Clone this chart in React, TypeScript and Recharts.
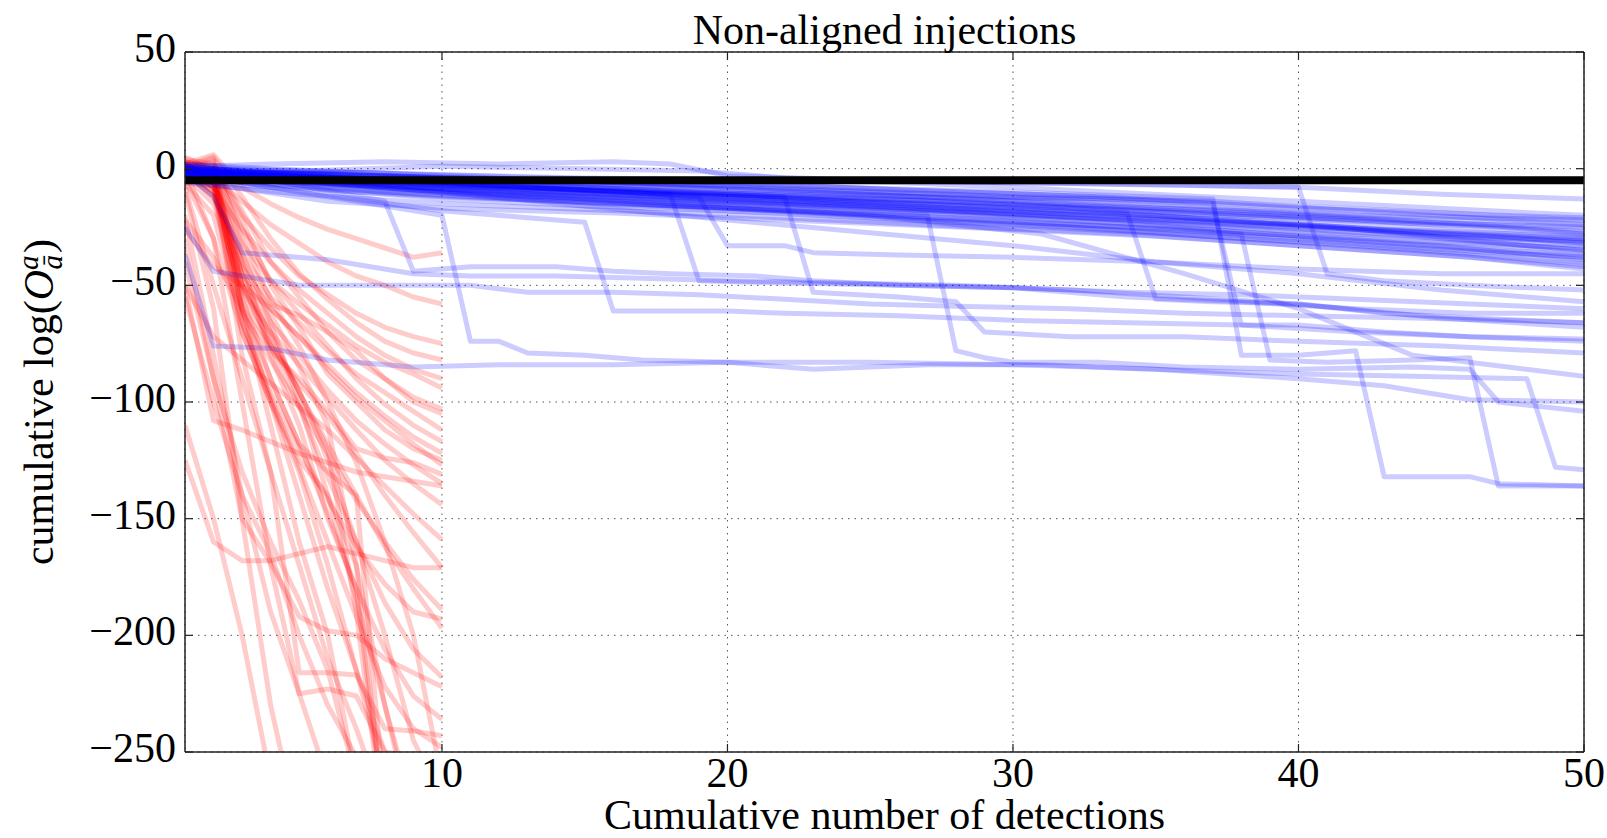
import React from 'react';
import { LineChart, Line, XAxis, YAxis, CartesianGrid } from 'recharts';

const CHART_W = 1607;
const CHART_H = 838;

const TITLE = 'Non-aligned injections';
const X_LABEL = 'Cumulative number of detections';
const X_TICKS = [10, 20, 30, 40, 50];
const Y_TICKS = [-250, -200, -150, -100, -50, 0, 50];
const X_DOMAIN: [number, number] = [1, 50];
const Y_DOMAIN: [number, number] = [-250, 50];
const THRESHOLD_LEVEL = -5;

// Red runs: cumulative value after detection 1, 2, 3, ... (stop once they leave the axes)
const redRuns: number[][] = [
  [2, 6, -8, -15, -21, -26, -30, -34, -38, -36],
  [0, -4, -14, -24, -32, -40, -46, -50, -55, -58],
  [3, 1, -20, -34, -46, -54, -62, -68, -72, -75],
  [1, 5, -12, -30, -45, -56, -66, -74, -79, -82],
  [-2, -8, -26, -40, -52, -62, -72, -80, -86, -90],
  [0, -3, -32, -48, -58, -67, -76, -83, -88, -94],
  [4, 2, -18, -40, -55, -70, -82, -90, -98, -103],
  [-1, -12, -36, -55, -66, -78, -88, -96, -104, -112],
  [2, 0, -26, -48, -62, -76, -90, -101, -110, -117],
  [-26, -42, -50, -60, -72, -84, -96, -106, -115, -122],
  [0, -6, -42, -60, -72, -86, -98, -108, -118, -127],
  [1, -2, -46, -66, -80, -95, -108, -118, -127, -135],
  [-3, -15, -52, -70, -84, -98, -112, -125, -135, -144],
  [-50, -72, -82, -92, -102, -112, -124, -136, -148, -159],
  [0, -8, -56, -76, -92, -106, -122, -140, -156, -171],
  [2, -4, -62, -82, -102, -122, -142, -160, -176, -189],
  [-1, -10, -46, -72, -96, -118, -140, -162, -180, -197],
  [-125, -160, -168, -168, -165, -162, -165, -168, -171, -171],
  [0, -5, -60, -90, -118, -148, -180, -206, -226, -236],
  [3, -8, -66, -98, -128, -160, -192, -222, -240, -248],
  [-6, -20, -66, -96, -120, -142, -162, -178, -190, -193],
  [1, -3, -50, -76, -102, -132, -160, -186, -206, -218],
  [-2, -12, -40, -58, -63, -70, -78, -90, -100, -105],
  [5, -1, -22, -50, -68, -88, -100, -112, -120, -125],
  [-50, -108, -112, -117, -122, -126, -130, -132, -134, -136],
  [-30, -90, -150, -169, -192, -198, -200, -210, -216, -222],
  [-22, -38, -60, -78, -90, -104, -120, -124, -126, -131],
  [-8, -50, -90, -130, -216, -216, -217, -240, -241, -243],
  [0, -30, -100, -170, -225, -223, -226, -250, -252, -256],
  [0, 3, -60, -110, -160, -200, -262],
  [-10, -60, -150, -230, -285],
  [2, -5, -80, -130, -170, -210, -240, -275],
  [-40, -90, -130, -160, -185, -215, -262],
  [-55, -100, -140, -165, -200, -230, -252, -270],
  [1, -2, -40, -80, -110, -150, -180, -280],
  [3, 0, -50, -70, -96, -120, -190, -285],
  [-2, -10, -70, -100, -125, -140, -170, -280],
  [0, 4, -30, -56, -76, -100, -126, -160, -200, -262],
  [-5, -30, -70, -100, -130, -170, -215, -262],
  [1, -3, -55, -90, -118, -130, -140, -272],
  [-1, -6, -45, -62, -85, -110, -170, -230, -282],
  [0, -2, -36, -66, -100, -140, -185, -230, -275],
  [-110, -150, -200, -262],
  [2, -4, -60, -100, -140, -180, -215, -250, -272],
  [0, -8, -50, -75, -95, -125, -160, -200, -245, -270],
  [-20, -80, -140, -190, -225, -262],
];

// Blue runs: [detection, cumulative value] at each change of slope
const blueRuns: number[][][] = [
  [[1, 1], [4, 2], [8, 3], [12, 2], [16, 3], [18, 2], [20, -3], [25, -5], [30, -6], [35, -7], [40, -8], [45, -11], [50, -13]],
  [[1, 0], [5, -1], [10, 1], [15, 0], [19, -1], [22, -4], [30, -8], [40, -14], [50, -20]],
  [[1, -1], [6, -2], [10, -4], [15, -5], [20, -6], [26, -9], [33, -12], [40, -17], [45, -19], [50, -22]],
  [[1, -2], [4, -3], [10, -5], [17, -7], [22, -9], [30, -12], [37, -14], [42, -18], [50, -24]],
  [[1, 1], [5, -3], [10, -6], [15, -9], [22, -12], [30, -15], [38, -18], [45, -23], [50, -26]],
  [[1, -3], [7, -5], [12, -8], [20, -11], [27, -14], [34, -18], [41, -22], [47, -25], [50, -28]],
  [[1, -4], [5, -6], [11, -9], [18, -12], [25, -15], [31, -19], [38, -24], [44, -27], [50, -30]],
  [[1, 0], [3, -2], [9, -7], [14, -10], [21, -13], [28, -17], [35, -20], [41, -25], [46, -30], [50, -33]],
  [[1, -2], [6, -6], [12, -10], [19, -14], [24, -16], [30, -20], [36, -23], [43, -28], [50, -35]],
  [[1, -5], [4, -8], [10, -12], [16, -15], [23, -18], [29, -22], [35, -26], [42, -31], [50, -37]],
  [[1, -1], [5, -4], [9, -8], [15, -12], [20, -15], [27, -19], [33, -23], [39, -28], [45, -33], [50, -39]],
  [[1, -3], [8, -10], [13, -13], [20, -17], [26, -21], [32, -25], [38, -30], [44, -35], [50, -41]],
  [[1, -6], [5, -11], [10, -15], [14, -17], [20, -20], [27, -24], [34, -28], [40, -33], [46, -38], [50, -43]],
  [[1, 2], [4, 0], [10, -3], [16, -6], [24, -10], [32, -14], [40, -19], [50, -24]],
  [[1, -2], [7, -4], [13, -7], [19, -10], [26, -13], [33, -17], [39, -21], [46, -27], [50, -30]],
  [[1, -1], [5, -5], [11, -8], [18, -11], [25, -14], [32, -17], [37, -22], [43, -26], [50, -29]],
  [[1, 0], [6, -3], [12, -6], [17, -9], [23, -13], [30, -17], [36, -21], [42, -26], [48, -33], [50, -35]],
  [[1, -4], [4, -7], [9, -11], [14, -14], [20, -18], [26, -22], [32, -25], [38, -29], [44, -34], [50, -38]],
  [[1, -3], [6, -7], [12, -12], [18, -16], [24, -19], [30, -22], [37, -27], [44, -31], [50, -34]],
  [[1, 1], [3, -1], [8, -3], [14, -5], [21, -8], [28, -11], [35, -15], [42, -20], [50, -22]],
  [[1, -2], [5, -8], [10, -13], [15, -16], [22, -19], [28, -23], [34, -27], [41, -32], [47, -37], [50, -40]],
  [[1, -5], [6, -14], [10, -17], [16, -19], [22, -22], [28, -25], [35, -29], [40, -33], [46, -38], [50, -42]],
  [[1, 0], [4, -4], [9, -9], [16, -13], [23, -16], [29, -19], [36, -24], [42, -28], [50, -31]],
  [[1, -1], [7, -6], [13, -9], [19, -13], [26, -17], [33, -21], [40, -24], [47, -29], [50, -32]],
  [[1, 0], [3, -1], [7, -3], [12, -5], [18, -8], [25, -11], [32, -15], [40, -20], [46, -24], [50, -27]],
  [[1, -1], [5, -2], [10, -4], [16, -7], [23, -10], [30, -14], [37, -19], [44, -23], [50, -25]],
  [[1, 1], [4, -2], [9, -5], [15, -8], [21, -11], [28, -14], [35, -18], [42, -22], [50, -28]],
  [[1, -2], [6, -4], [11, -7], [17, -10], [24, -14], [31, -18], [38, -22], [45, -28], [50, -31]],
  [[1, 0], [5, -3], [10, -6], [16, -10], [22, -14], [28, -18], [34, -22], [40, -27], [47, -33], [50, -36]],
  [[1, -3], [7, -7], [13, -11], [20, -14], [27, -17], [35, -21], [42, -26], [50, -32]],
  [[1, 2], [3, 0], [8, -2], [14, -4], [20, -6], [26, -9], [33, -12], [40, -16], [47, -20], [50, -21]],
  [[1, -1], [6, -4], [11, -8], [17, -12], [23, -16], [29, -20], [35, -24], [41, -30], [50, -38]],
  [[1, 0], [8, -2], [15, -4], [22, -5], [30, -6], [36, -7], [40, -8], [41, -45], [43, -48], [46, -50], [50, -52]],
  [[1, -2], [10, -10], [20, -22], [30, -33], [35, -40], [40, -45], [45, -52], [50, -57]],
  [[1, -2], [2, -12], [3, -36], [6, -39], [9, -45], [11, -46], [14, -46], [17, -47], [20, -48], [24, -49], [28, -50], [32, -52], [36, -55], [40, -58], [45, -64], [50, -68]],
  [[1, -1], [4, -5], [8, -14], [9, -44], [11, -42], [14, -42], [16, -44], [18, -45], [21, -46], [23, -48], [26, -50], [30, -51], [34, -53], [38, -54], [42, -56], [46, -58], [50, -60]],
  [[1, -25], [2, -44], [5, -50], [8, -50], [11, -50], [13, -53], [16, -53], [19, -54], [22, -56], [25, -58], [28, -59], [32, -60], [36, -62], [40, -63], [44, -64], [50, -66]],
  [[1, -1], [3, -6], [6, -12], [10, -20], [11, -74], [12, -74], [13, -79], [15, -80], [17, -82], [20, -83], [25, -83], [30, -84], [35, -86], [40, -88], [44, -89], [48, -90], [49, -128], [50, -129]],
  [[1, -37], [2, -76], [4, -77], [6, -82], [9, -85], [12, -84], [16, -84], [20, -83], [23, -86], [27, -84], [31, -84], [35, -86], [40, -90], [43, -93], [46, -99], [50, -100]],
  [[1, -2], [5, -10], [10, -18], [13, -21], [15, -23], [16, -61], [20, -61], [22, -62], [26, -63], [30, -65], [34, -66], [38, -67], [42, -70], [46, -72], [50, -74]],
  [[1, 0], [6, -5], [12, -8], [18, -11], [19, -48], [22, -49], [26, -50], [30, -51], [34, -55], [38, -57], [42, -60], [46, -62], [50, -62]],
  [[1, -1], [7, -4], [14, -8], [22, -12], [23, -53], [26, -55], [28, -57], [29, -70], [32, -72], [36, -72], [40, -74], [45, -76], [50, -79]],
  [[1, -2], [8, -6], [15, -9], [19, -12], [20, -33], [22, -33], [23, -36], [26, -37], [30, -38], [35, -40], [40, -43], [45, -45], [50, -45]],
  [[1, -1], [6, -6], [12, -11], [18, -15], [24, -18], [27, -20], [28, -78], [29, -81], [30, -83], [33, -83], [36, -85], [40, -86], [44, -85], [46, -86], [47, -100], [50, -104]],
  [[1, 0], [8, -5], [16, -10], [24, -14], [30, -17], [34, -19], [35, -56], [37, -57], [40, -58], [43, -62], [46, -64], [50, -66]],
  [[1, -1], [8, -3], [16, -6], [24, -8], [30, -10], [37, -13], [38, -80], [40, -80], [42, -78], [43, -132], [46, -132], [47, -135], [50, -136]],
  [[1, -2], [10, -10], [20, -17], [30, -23], [36, -26], [38, -28], [39, -82], [41, -83], [44, -82], [46, -81], [47, -136], [50, -136]],
  [[1, -1], [9, -6], [18, -10], [27, -12], [33, -13], [37, -15], [38, -67], [40, -67], [43, -70], [46, -72], [50, -73]],
  [[1, -3], [9, -9], [17, -14], [25, -20], [31, -28], [36, -45], [40, -60], [44, -80], [50, -89]],
];

const FONT = "'Liberation Serif', 'Times New Roman', Times, serif";
const FONT_SIZE = 42;
const AXIS_STROKE = '#222';
const TICK_LEN = 8;
const LINE_W = 5;

const fmt = (v: number) => (v < 0 ? `\u2212${Math.abs(v)}` : `${v}`);

const redSeries = redRuns.map((run) => run.map((y, i) => ({ x: i + 1, y })));
const blueSeries = blueRuns.map((run) => run.map(([x, y]) => ({ x, y })));
const thresholdSeries = X_DOMAIN.map((x) => ({ x, y: THRESHOLD_LEVEL }));

function BottomTick({ x, y, payload }: any) {
  return (
    <g>
      <line x1={x} y1={y} x2={x} y2={y - TICK_LEN} stroke={AXIS_STROKE} strokeWidth={1.2} />
      <text x={x} y={y + 35} textAnchor="middle" fontFamily={FONT} fontSize={FONT_SIZE} fill="#000">
        {fmt(payload.value)}
      </text>
    </g>
  );
}

function LeftTick({ x, y, payload }: any) {
  return (
    <g>
      <line x1={x} y1={y} x2={x + TICK_LEN} y2={y} stroke={AXIS_STROKE} strokeWidth={1.2} />
      <text x={x - 9} y={y + 10} textAnchor="end" fontFamily={FONT} fontSize={FONT_SIZE} fill="#000">
        {fmt(payload.value)}
      </text>
    </g>
  );
}

function TopTick({ x, y }: any) {
  return <line x1={x} y1={y} x2={x} y2={y + TICK_LEN} stroke={AXIS_STROKE} strokeWidth={1.2} />;
}

function RightTick({ x, y }: any) {
  return <line x1={x} y1={y} x2={x - TICK_LEN} y2={y} stroke={AXIS_STROKE} strokeWidth={1.2} />;
}

const MARGIN = { top: 51, right: 22, bottom: 46, left: 105 };
const PLOT_LEFT = 185;
const PLOT_RIGHT = 1584;
const PLOT_TOP = 52;
const PLOT_BOTTOM = 752;
const PLOT_CX = (PLOT_LEFT + PLOT_RIGHT) / 2;
const PLOT_CY = (PLOT_TOP + PLOT_BOTTOM) / 2;

export default function App() {
  return (
    <div style={{ position: 'absolute', left: 0, top: 0, width: CHART_W, height: CHART_H, background: '#fff' }}>
      <LineChart width={CHART_W} height={CHART_H} margin={MARGIN}>
        <CartesianGrid stroke="#555" strokeWidth={1} strokeDasharray="1.5 5" />
        <XAxis
          type="number"
          dataKey="x"
          domain={X_DOMAIN}
          ticks={X_TICKS}
          interval={0}
          allowDataOverflow
          height={40}
          tickSize={0}
          tickMargin={0}
          tickLine={false}
          axisLine={{ stroke: AXIS_STROKE, strokeWidth: 1.5 }}
          tick={<BottomTick />}
        />
        <XAxis
          xAxisId="top"
          orientation="top"
          type="number"
          dataKey="x"
          domain={X_DOMAIN}
          ticks={X_TICKS}
          interval={0}
          allowDataOverflow
          height={1}
          tickSize={0}
          tickMargin={0}
          tickLine={false}
          axisLine={{ stroke: AXIS_STROKE, strokeWidth: 1.5 }}
          tick={<TopTick />}
        />
        <YAxis
          type="number"
          dataKey="y"
          domain={Y_DOMAIN}
          ticks={Y_TICKS}
          interval={0}
          allowDataOverflow
          width={80}
          tickSize={0}
          tickMargin={0}
          tickLine={false}
          axisLine={{ stroke: AXIS_STROKE, strokeWidth: 1.5 }}
          tick={<LeftTick />}
        />
        <YAxis
          yAxisId="right"
          orientation="right"
          type="number"
          dataKey="y"
          domain={Y_DOMAIN}
          ticks={Y_TICKS}
          interval={0}
          allowDataOverflow
          width={1}
          tickSize={0}
          tickMargin={0}
          tickLine={false}
          axisLine={{ stroke: AXIS_STROKE, strokeWidth: 1.5 }}
          tick={<RightTick />}
        />
        {redSeries.map((d, i) => (
          <Line
            key={`r${i}`}
            data={d}
            dataKey="y"
            type="linear"
            stroke="#ff0000"
            strokeOpacity={0.2}
            strokeWidth={LINE_W}
            strokeLinejoin="round"
            dot={false}
            activeDot={false}
            isAnimationActive={false}
          />
        ))}
        {blueSeries.map((d, i) => (
          <Line
            key={`b${i}`}
            data={d}
            dataKey="y"
            type="linear"
            stroke="#0000ff"
            strokeOpacity={0.2}
            strokeWidth={LINE_W}
            strokeLinejoin="round"
            dot={false}
            activeDot={false}
            isAnimationActive={false}
          />
        ))}
        <Line
          data={thresholdSeries}
          dataKey="y"
          type="linear"
          stroke="#000"
          strokeWidth={8}
          dot={false}
          activeDot={false}
          isAnimationActive={false}
        />
      </LineChart>
      <svg
        width={CHART_W}
        height={CHART_H}
        style={{ position: 'absolute', left: 0, top: 0, pointerEvents: 'none' }}
      >
        <text x={PLOT_CX} y={44} textAnchor="middle" fontFamily={FONT} fontSize={FONT_SIZE} fill="#000">
          {TITLE}
        </text>
        <text x={PLOT_CX} y={829} textAnchor="middle" fontFamily={FONT} fontSize={FONT_SIZE} fill="#000">
          {X_LABEL}
        </text>
        <text
          transform={`translate(53, ${PLOT_CY}) rotate(-90)`}
          textAnchor="middle"
          fontFamily={FONT}
          fontSize={FONT_SIZE}
          fill="#000"
        >
          cumulative log(
          <tspan fontStyle="italic">O</tspan>
          <tspan fontStyle="italic" fontSize={29} dy={-15}>a</tspan>
          <tspan fontStyle="italic" fontSize={29} dx={-14} dy={24}>ā</tspan>
          <tspan dx={2} dy={-9}>)</tspan>
        </text>
      </svg>
    </div>
  );
}
